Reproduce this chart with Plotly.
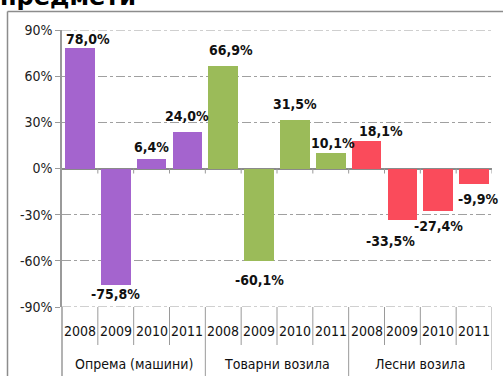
import plotly.graph_objects as go

# Year-on-year change, %, by category and year
groups = ["Опрема (машини)", "Товарни возила", "Лесни возила"]
years = ["2008", "2009", "2010", "2011"]
equipment = [78.0, -75.8, 6.4, 24.0]
trucks = [66.9, -60.1, 31.5, 10.1]
cars = [18.1, -33.5, -27.4, -9.9]
y_ticks = [-90, -60, -30, 0, 30, 60, 90]

series = [equipment, trucks, cars]
colors = ["#A464CE", "#9BBB59", "#FA4B5B"]

# label nudges in pixels: (dx, distance from bar end)
label_dx = [8, 0, 0, 0, 8, 0, 0, 2, 14, -12, 0, 4]
label_gap = [9, 9, 12, 16, 16, 19, 16, 10, 10, 21, 15, 15]

W, H = 503, 376
L, R, T, B = 62, 11, 30, 69
plot_w = W - L - R
plot_h = H - T - B
Y_MIN, Y_MAX = y_ticks[0], y_ticks[-1]


def py(pix):
    """pixel row -> paper y"""
    return (H - B - pix) / plot_h


def px(pix):
    """pixel column -> paper x"""
    return (pix - L) / plot_w


FONT = "DejaVu Sans Condensed"
GRID = "#A0A0A0"
LINE = "#9A9A9A"

fig = go.Figure()
n_years = len(years)
for g, (vals, col) in enumerate(zip(series, colors)):
    xs = [g * n_years + i for i in range(n_years)]
    fig.add_trace(go.Bar(x=xs, y=vals, marker=dict(color=col, line=dict(width=0)),
                         width=0.83, showlegend=False, hoverinfo="skip"))

annotations = []
shapes = []

# gridlines on the range edges (plotly skips those)
for yv in (Y_MIN, Y_MAX):
    shapes.append(dict(type="line", xref="paper", yref="y", x0=0, x1=1, y0=yv, y1=yv,
                       line=dict(color=GRID, width=1, dash="dashdot"), layer="below"))

# data labels
k = 0
for vals in series:
    for v in vals:
        txt = f"{v:.1f}".replace(".", ",") + "%"
        sgn = 1 if v >= 0 else -1
        annotations.append(dict(x=k, y=v, xref="x", yref="y", text=f"<b>{txt}</b>",
                                showarrow=False, xanchor="center", yanchor="middle",
                                xshift=label_dx[k], yshift=sgn * label_gap[k],
                                font=dict(family=FONT, size=14, color="#111111")))
        k += 1

n = len(groups) * n_years

# year labels and group labels under the plot
for g, name in enumerate(groups):
    for i, yr in enumerate(years):
        annotations.append(dict(x=g * n_years + i, y=py(331), xref="x", yref="paper",
                                text=yr, showarrow=False, yanchor="middle",
                                font=dict(family=FONT, size=14, color="#111111")))
    annotations.append(dict(x=g * n_years + (n_years - 1) / 2, y=py(364), xref="x",
                            yref="paper", text=name, showarrow=False, yanchor="middle",
                            font=dict(family=FONT, size=14, color="#111111")))

# separators in the category area
for b in range(1, n + 1):
    xb = b - 0.5
    if b == n:
        y_end = py(370)
    elif b % n_years == 0:
        y_end = py(380)
    else:
        y_end = py(345)
    shapes.append(dict(type="line", xref="x", yref="paper", x0=xb, x1=xb, y0=0, y1=y_end,
                       line=dict(color=LINE, width=1)))
    # small tick marks under the zero line
    shapes.append(dict(type="line", xref="x", yref="y", x0=xb, x1=xb,
                       ysizemode="pixel", yanchor=0, y0=0, y1=-5,
                       line=dict(color=LINE, width=1)))

# y axis line continued down through the category area
shapes.append(dict(type="line", xref="paper", yref="paper", x0=0, x1=0, y0=0, y1=py(380),
                   line=dict(color=LINE, width=1.5)))

# outer chart frame
shapes.append(dict(type="line", xref="paper", yref="paper", x0=px(7.5), x1=px(510),
                   y0=py(11.5), y1=py(11.5), line=dict(color="#8C8C8C", width=1.5)))
shapes.append(dict(type="line", xref="paper", yref="paper", x0=px(7.5), x1=px(7.5),
                   y0=py(11.5), y1=py(390), line=dict(color="#8C8C8C", width=1.5)))

# title (only its lower part fits on the page)
annotations.append(dict(x=px(-2), y=py(13), xref="paper", yref="paper",
                        text="<b>предмети</b>", showarrow=False,
                        xanchor="left", yanchor="bottom",
                        font=dict(family="DejaVu Sans", size=24, color="#000000")))

fig.update_layout(
    width=W, height=H,
    margin=dict(l=L, r=R, t=T, b=B, pad=0),
    paper_bgcolor="white", plot_bgcolor="white",
    bargap=0,
    xaxis=dict(range=[-0.5, n - 0.5], showticklabels=False, showgrid=False,
               zeroline=False, showline=False, ticks=""),
    yaxis=dict(range=[Y_MIN, Y_MAX], tickvals=y_ticks,
               ticktext=[f"{t}%" for t in y_ticks],
               showgrid=True, gridcolor=GRID, gridwidth=1, griddash="dashdot",
               zeroline=True, zerolinecolor="#8A8A8A", zerolinewidth=2,
               showline=True, linecolor=LINE, linewidth=1.5,
               ticks="outside", ticklen=5, tickcolor=LINE,
               tickfont=dict(family=FONT, size=14, color="#222222")),
    annotations=annotations,
    shapes=shapes,
)

fig.write_html("out.html")
